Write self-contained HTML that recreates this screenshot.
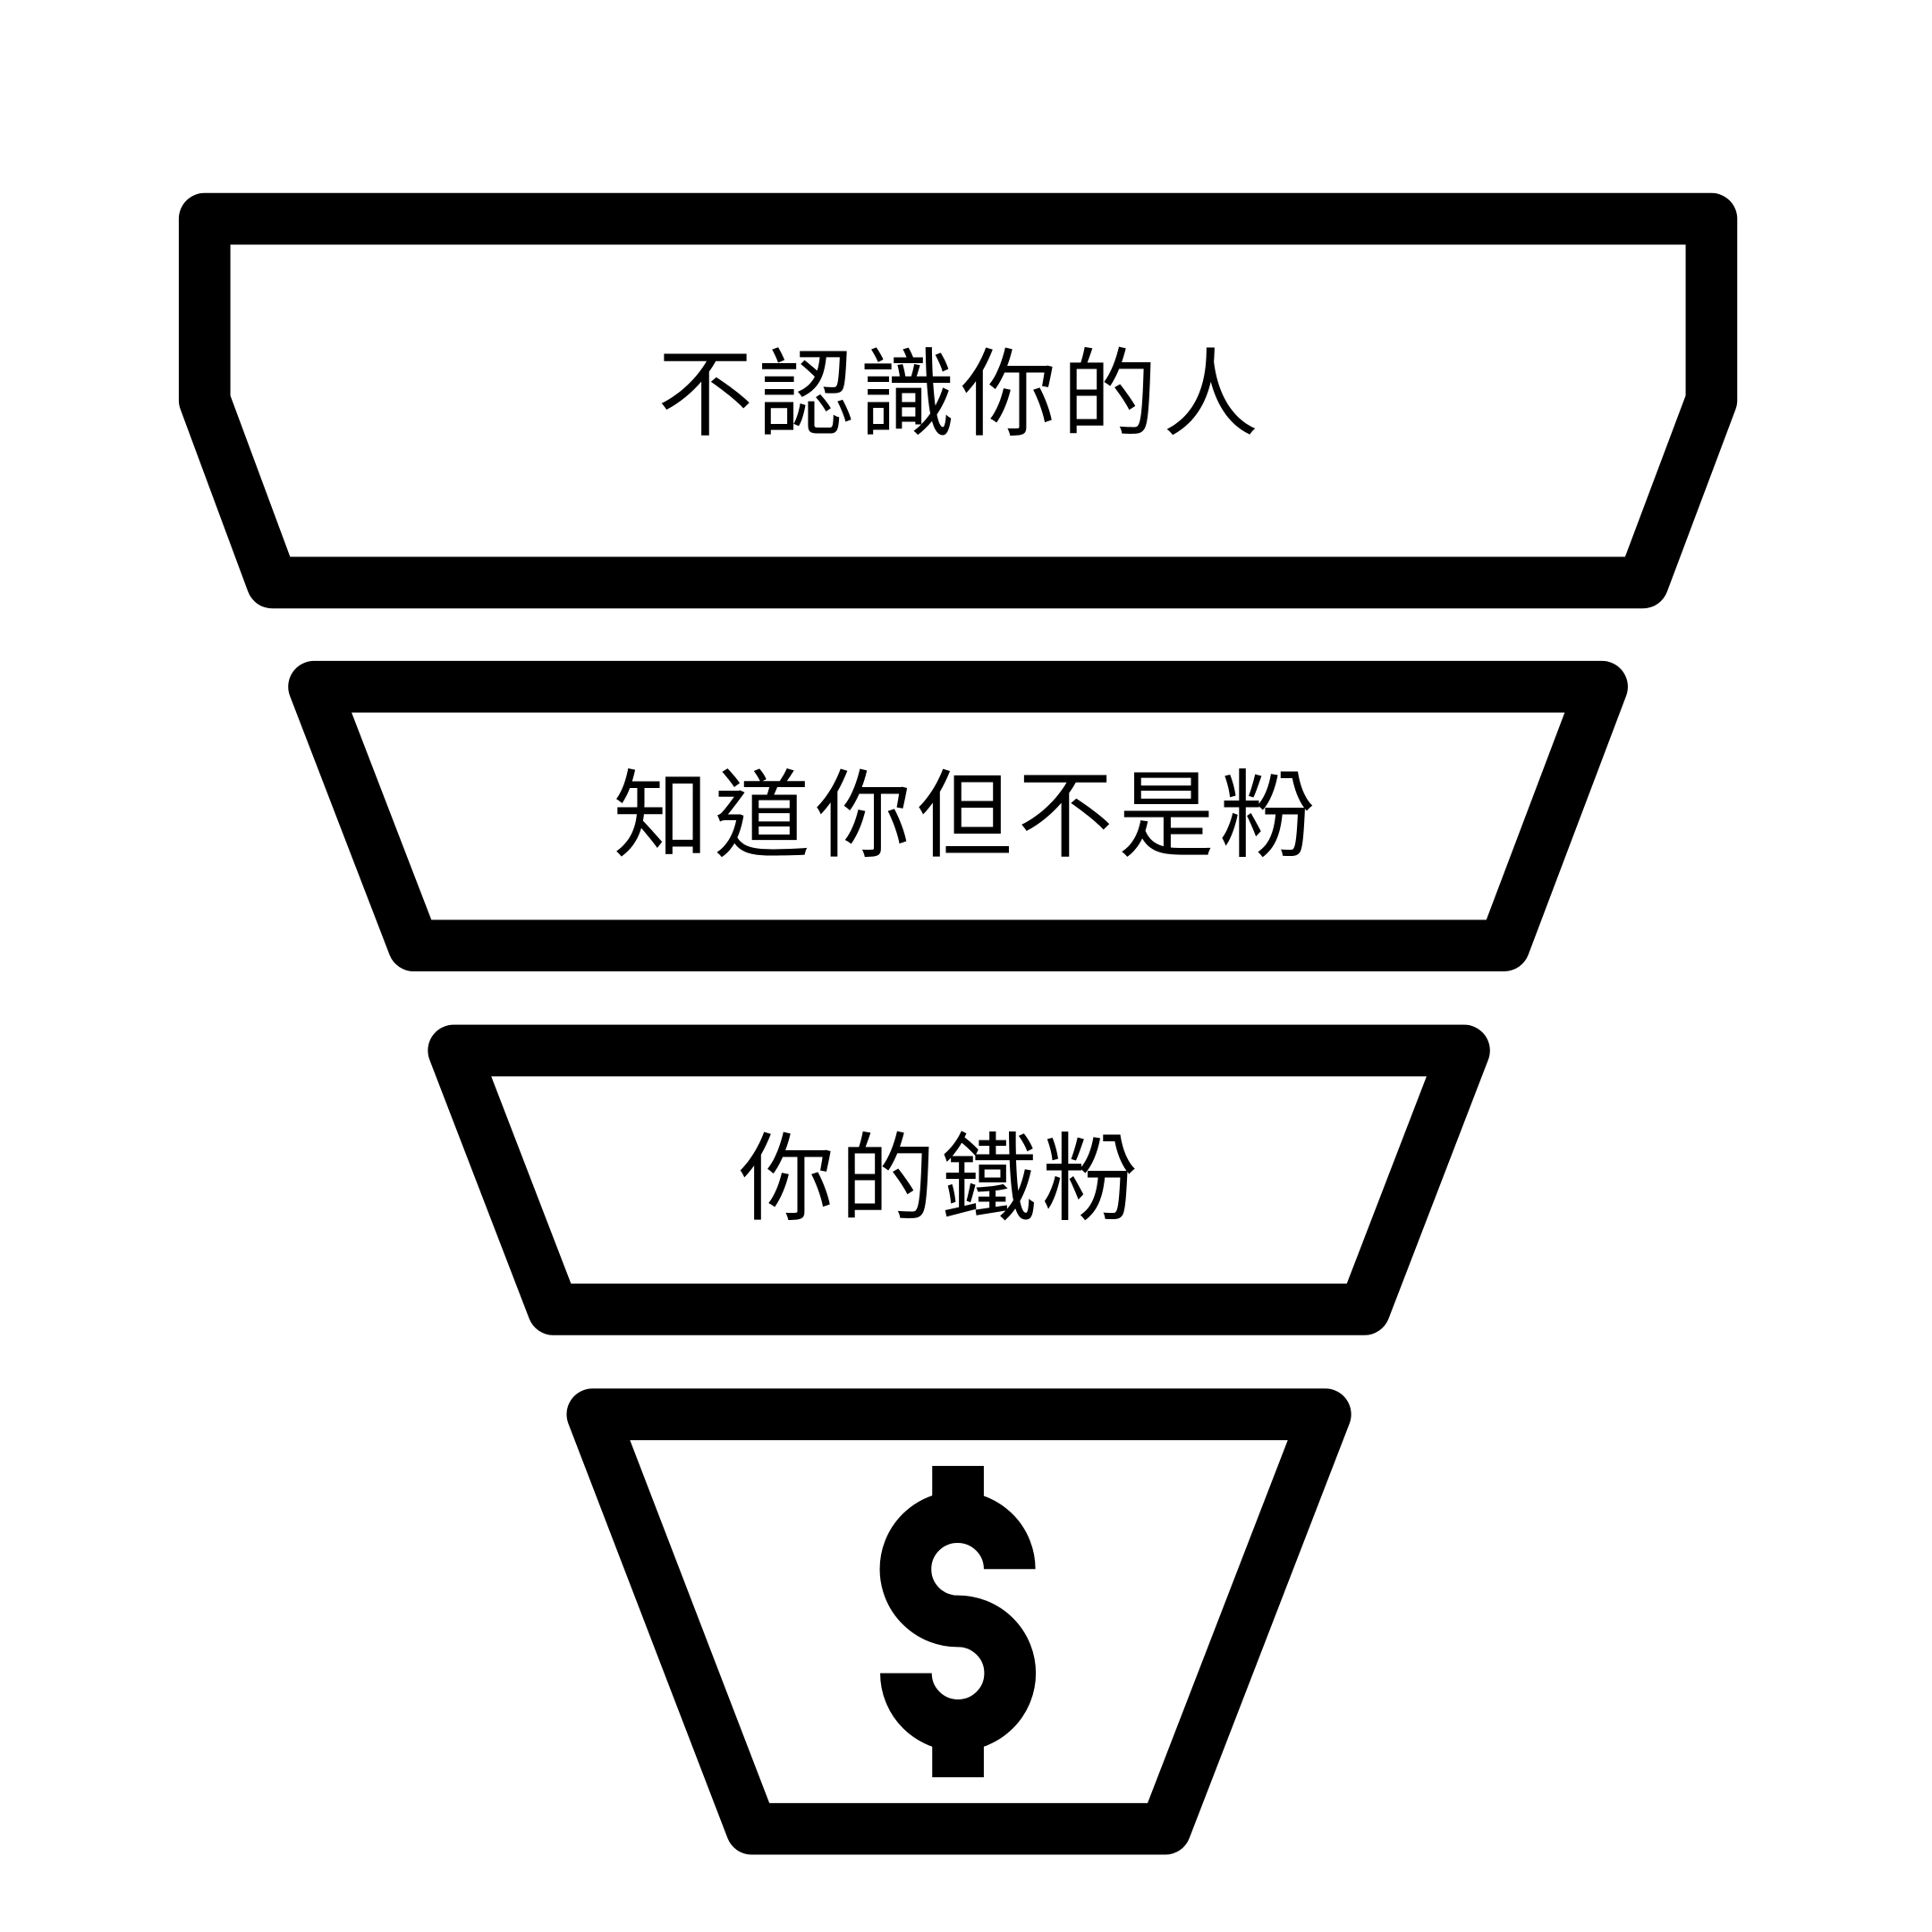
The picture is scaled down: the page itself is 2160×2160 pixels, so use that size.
<!DOCTYPE html>
<html><head><meta charset="utf-8"><style>
html,body{margin:0;padding:0;background:#fff;}
svg{display:block}
text{font-family:"Liberation Sans","Noto Sans CJK TC",sans-serif;font-size:107px;fill:#000;text-anchor:middle;dominant-baseline:central;letter-spacing:6px}
</style></head><body>
<svg width="2160" height="2160" viewBox="0 0 2160 2160">
<g transform="scale(0.9945)">
<g fill="none" stroke="#000" stroke-width="58" stroke-linejoin="round">
<polygon points="230,246 1924,246 1924,450 1847,655 306,655 230,450"/>
<polygon points="353,772 1801,772 1691,1063 465,1063"/>
<polygon points="510,1181 1646,1181 1534,1472 622,1472"/>
<polygon points="666,1590 1490,1590 1310,2056 845,2056"/>
<path d="M1135 1764 A58.5 58.5 0 1 0 1077 1822.5 A58.5 58.5 0 1 1 1018.5 1881"/>
</g>
<rect x="1048" y="1648" width="58" height="58" fill="#000"/>
<rect x="1048" y="1940" width="58" height="58" fill="#000"/>
</g>
<text x="1074" y="441">不認識你的人</text>
<text x="1081" y="912">知道你但不是粉</text>
<text x="1052" y="1318">你的鐵粉</text>
</svg>
</body></html>
